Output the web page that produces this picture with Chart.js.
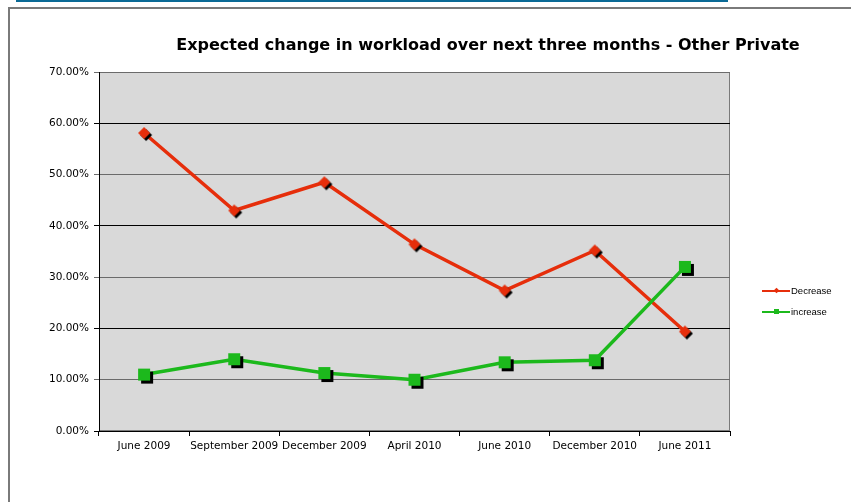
<!DOCTYPE html>
<html>
<head>
<meta charset="utf-8">
<script src="https://cdn.jsdelivr.net/npm/chart.js@4/dist/chart.umd.min.js"></script>
<style>
    body { margin: 0; background: #fff; width: 851px; height: 502px; overflow: hidden; position: relative; }
    #link { position: absolute; left: 16px; top: 0; width: 712px; height: 2px; background: #0b6a96; }
    #frame { position: absolute; left: 8px; top: 7px; width: 900px; height: 600px; border: 2px solid #7a7a7a; box-sizing: border-box; }
    #chart { position: absolute; left: 0; top: 0; }
    #title { position: absolute; left: 0; width: 976px; top: 35px; line-height: 18px; text-align: center;
             font: bold 16px "DejaVu Sans", Verdana, sans-serif; color: #000; }
    .leg { position: absolute; left: 762px; height: 12px; font: 9.5px "Liberation Sans", Arial, sans-serif; color: #000; }
    .leg .ln { position: absolute; left: 0; top: 5px; width: 28px; height: 2px; }
    .leg .mk { position: absolute; left: 12px; top: 3px; width: 5px; height: 5px; }
    .leg span { position: absolute; left: 29px; top: 0; line-height: 12px; white-space: nowrap; }
</style>
</head>
<body>
<div id="link"></div>
<div id="frame"></div>
<canvas id="chart" width="851" height="502"></canvas>
<div id="title">Expected change in workload over next three months - Other Private</div>
<div class="leg" style="top:285px">
    <div class="ln" style="background:#e62e0b"></div>
    <div class="mk" style="background:#e62e0b;transform:rotate(45deg) scale(0.8)"></div>
    <span>Decrease</span>
</div>
<div class="leg" style="top:306px">
    <div class="ln" style="background:#1cb91c"></div>
    <div class="mk" style="background:#1cb91c"></div>
    <span>increase</span>
</div>
<script>
const periods = ['June 2009', 'September 2009', 'December 2009', 'April 2010', 'June 2010', 'December 2010', 'June 2011'];
const decrease = [58.1, 43.0, 48.5, 36.4, 27.4, 35.2, 19.4];
const increase = [11.0, 14.0, 11.3, 10.0, 13.4, 13.8, 32.0];
const yTicks = [0, 10, 20, 30, 40, 50, 60, 70];

const RED = '#e62e0b';
const GREEN = '#1cb91c';

// marker images with the black drop shadow baked in
function makeMarker(shape, color, half, off) {
    const c = document.createElement('canvas');
    const size = (half + off) * 2 + 2;
    c.width = size;
    c.height = size;
    const g = c.getContext('2d');
    const m = size / 2;
    function draw(cx, cy, fill) {
        g.fillStyle = fill;
        g.beginPath();
        if (shape === 'diamond') {
            g.moveTo(cx, cy - half);
            g.lineTo(cx + half, cy);
            g.lineTo(cx, cy + half);
            g.lineTo(cx - half, cy);
            g.closePath();
        } else {
            g.rect(cx - half, cy - half, half * 2, half * 2);
        }
        g.fill();
    }
    draw(m + off, m + off, '#000');
    draw(m, m, color);
    return c;
}

const diamond = makeMarker('diamond', RED, 6, 2);
const square = makeMarker('square', GREEN, 6, 3);

const plotBg = {
    id: 'plotBg',
    beforeDraw(chart) {
        const a = chart.chartArea;
        const ctx = chart.ctx;
        ctx.save();
        ctx.fillStyle = '#d9d9d9';
        ctx.fillRect(a.left, a.top, a.right - a.left, a.bottom - a.top);
        ctx.strokeStyle = '#7a7a7a';
        ctx.lineWidth = 1;
        ctx.strokeRect(a.left + 0.5, a.top + 0.5, a.right - a.left - 1, a.bottom - a.top - 1);
        ctx.restore();
    }
};

new Chart(document.getElementById('chart'), {
    type: 'line',
    data: {
        labels: periods,
        datasets: [{
            label: 'Decrease',
            data: decrease,
            borderColor: RED,
            backgroundColor: RED,
            borderWidth: 3.5,
            pointStyle: diamond,
            pointRadius: 6,
            tension: 0,
            order: 1
        }, {
            label: 'increase',
            data: increase,
            borderColor: GREEN,
            backgroundColor: GREEN,
            borderWidth: 3.5,
            pointStyle: square,
            pointRadius: 6,
            tension: 0,
            order: 0
        }]
    },
    options: {
        responsive: false,
        animation: false,
        layout: { padding: { left: 0, top: 72, right: 121, bottom: 41 } },
        plugins: {
            legend: { display: false },
            title: { display: false },
            tooltip: { enabled: false }
        },
        scales: {
            x: {
                offset: true,
                afterFit: s => { s.height = 30; },
                grid: { drawOnChartArea: false, drawTicks: true, tickLength: 5, offset: true, color: '#000' },
                border: { display: true, color: '#000', width: 1 },
                ticks: {
                    autoSkip: false, maxRotation: 0, padding: 4, color: '#000',
                    font: { family: 'DejaVu Sans', size: 10.5 }
                }
            },
            y: {
                min: 0,
                max: 70,
                afterFit: s => { s.width = 99; },
                afterBuildTicks: s => { s.ticks = yTicks.map(v => ({ value: v })); },
                grid: {
                    tickLength: 5,
                    color: ctx => (ctx.index % 2 ? '#6b6b6b' : '#000')
                },
                border: { display: true, color: '#000', width: 1 },
                ticks: {
                    padding: 5, color: '#000',
                    font: { family: 'DejaVu Sans', size: 10.5 },
                    callback: v => v.toFixed(2) + '%'
                }
            }
        }
    },
    plugins: [plotBg]
});
</script>
</body>
</html>
